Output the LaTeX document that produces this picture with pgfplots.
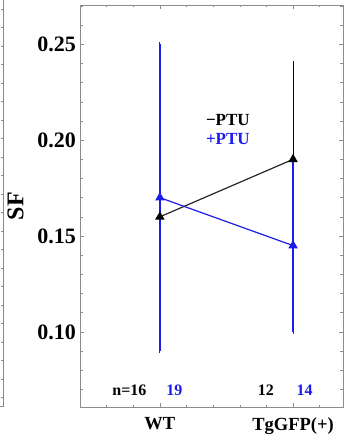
\documentclass[border=0pt]{standalone}
\usepackage{pgfplots}
\pgfplotsset{compat=1.18}
\usepackage{fontspec}
\setmainfont{Liberation Serif}
\definecolor{myblue}{RGB}{28,28,235}
\definecolor{frame}{RGB}{140,140,140}
\begin{document}
\begin{tikzpicture}[x=1pt,y=1pt]
\path[use as bounding box] (0,0) rectangle (345,442);
% sliver of neighbouring panel
\draw[frame,line width=0.8pt] (-20,36) -- (3,36) -- (3,445);
\foreach \yy in {45,63,82,100,119,137,156,174,193,211,230,248,267,285,304,322,341,359,378,396,415,433}
  \draw[frame,line width=0.5pt] (3,\yy) -- (0.5,\yy);
\begin{axis}[
  at={(80pt,35pt)}, anchor=south west,
  scale only axis, width=263pt, height=402pt,
  xmin=0.4, xmax=2.375, ymin=0.0608, ymax=0.2705,
  axis line style={frame,line width=0.8pt},
  tick style={frame,line width=0.5pt},
  major tick length=4pt, minor tick length=2.5pt,
  xtick={1,2}, xticklabels={\bfseries WT,\bfseries TgGFP(+)},
  minor xtick={0.6,0.8,1.2,1.4,1.6,1.8,2.2},
  ytick={0.10,0.15,0.20,0.25},
  yticklabels={\bfseries 0.10,\bfseries 0.15,\bfseries 0.20,\bfseries 0.25},
  minor ytick={0.07,0.08,0.09,0.11,0.12,0.13,0.14,0.16,0.17,0.18,0.19,0.21,0.22,0.23,0.24,0.26,0.27},
  tick align=inside,
  yticklabel style={font=\fontsize{22}{24}\selectfont, xshift=-0.5pt},
  xticklabel style={font=\fontsize{18.5}{20}\selectfont, yshift=-7pt},
  ylabel={\bfseries SF},
  every axis y label/.style={at={(axis description cs:-0.245,0.5)}, rotate=90, anchor=center, font=\fontsize{24}{26}\selectfont},
  clip=false,
]
% black error bars (drawn first, beneath)
\addplot[black, line width=1.1pt, draw=none, mark=none,
  error bars/.cd, y dir=both, y explicit,
  error bar style={black,line width=1.1pt},
  error mark=-, error mark options={black,line width=1.1pt,mark size=2.2pt}]
  coordinates {(1,0.16) +- (0,0.05) (2,0.19) +- (0,0.05)};
% blue series
\addplot[myblue, line width=1.2pt, mark=triangle*, mark size=4.3pt,
  mark options={myblue,solid},
  error bars/.cd, y dir=both, y explicit,
  error bar style={myblue,line width=1.6pt},
  error mark=-, error mark options={myblue,line width=1.1pt,mark size=2pt}]
  coordinates {(1,0.17) +- (0,0.08) (2,0.145) +- (0,0.045)};
% black line and marks on top
\addplot[black!85, line width=1.2pt, mark=triangle*, mark size=4.3pt,
  mark options={black,solid}]
  coordinates {(1,0.16) (2,0.19)};
\node[anchor=west, font=\fontsize{17}{19}\selectfont\bfseries, black] at (axis cs:1.32,0.2104) {−PTU};
\node[anchor=west, font=\fontsize{17}{19}\selectfont\bfseries, myblue] at (axis cs:1.32,0.2005) {+PTU};
\node[anchor=base east, font=\fontsize{16}{18}\selectfont\bfseries, black] at (axis cs:0.925,0.067) {n=16};
\node[anchor=base west, font=\fontsize{16}{18}\selectfont\bfseries, myblue] at (axis cs:1.0225,0.067) {19};
\node[anchor=base, font=\fontsize{16}{18}\selectfont\bfseries, black] at (axis cs:1.795,0.067) {12};
\node[anchor=base, font=\fontsize{16}{18}\selectfont\bfseries, myblue] at (axis cs:2.0875,0.067) {14};
\end{axis}
\end{tikzpicture}
\end{document}
